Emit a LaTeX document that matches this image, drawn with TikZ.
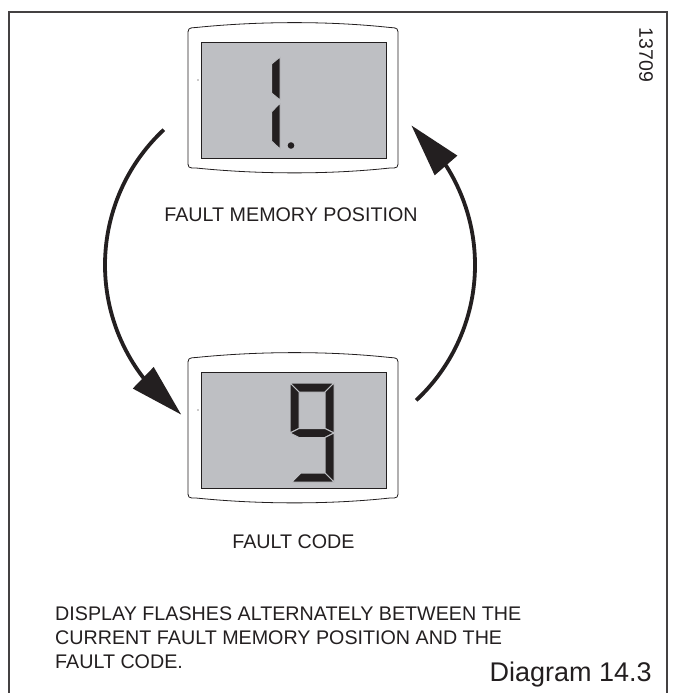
\documentclass[tikz,border=0pt]{standalone}
\usepackage{fontspec}
\setmainfont{Liberation Sans}
\usetikzlibrary{arrows.meta,positioning,calc,bending}

\definecolor{ink}{HTML}{231F20}
\definecolor{lcdgrey}{RGB}{190,191,195}

% rounded housing round one LCD window
\newcommand\bezel[1]{%
 \draw[housing] ($(#1.south west)+(-13,-2)$) -- ($(#1.north west)+(-13,6)$)
  .. controls ($(#1.north west)+(-13,14)$) .. ($(#1.north west)+(-5,14.5)$)
  .. controls ($(#1.north west)+(59,21)$) and ($(#1.north east)+(-56,21)$) .. ($(#1.north east)+(4,14.5)$)
  .. controls ($(#1.north east)+(12,14)$) .. ($(#1.north east)+(12,6)$)
  -- ($(#1.south east)+(12,-2)$)
  .. controls ($(#1.south east)+(12,-10)$) .. ($(#1.south east)+(4,-10)$)
  .. controls ($(#1.south east)+(-56,-16.5)$) and ($(#1.south west)+(59,-16.5)$) .. ($(#1.south west)+(-5,-10)$)
  .. controls ($(#1.south west)+(-13,-10)$) .. cycle;
 \fill[ink] ($(#1.north west)+(-3,-38)$) circle (0.7);}

\begin{document}
\begin{tikzpicture}[x=1pt,y=1pt,font=\fontsize{19.7}{24}\selectfont,
 lcd/.style={draw=ink,line width=0.8pt,fill=lcdgrey,minimum width=185pt,minimum height=116pt,inner sep=0pt,outer sep=0pt},
 housing/.style={draw=ink,line width=0.8pt,fill=white},
 seg/.style={fill=ink,draw=lcdgrey,line width=1pt},
 caption/.style={text=ink,inner sep=0pt,anchor=base},
 flow/.style={draw=ink,line width=3.8pt,-{Triangle[length=53pt,width=29pt,flex]}}]
\useasboundingbox (0,0) rectangle (678,-693);
\draw[ink!85,line width=1.2pt] (9,-693) -- (9,-12) -- (667,-12) -- (667,-693);

\node[lcd] (mem) at (293.5,-100) {};
\node[lcd] (code) at (293.5,-430) {};
\bezel{mem}\bezel{code}
\node[lcd] at (mem) {};
\node[lcd] at (code) {};

% digit 1 and point
\filldraw[seg] (280,-57) -- (280,-100) -- (271.5,-93) -- (271.5,-64) -- cycle;
\filldraw[seg] (280,-103) -- (280,-149) -- (271.5,-141) -- (271.5,-112) -- cycle;
\fill[ink] (291,-145.5) circle (3.3);

% digit 9
\filldraw[seg] (290,-383) -- (334,-383) -- (325,-392) -- (299,-392) -- cycle;
\filldraw[seg] (290,-383) -- (299,-392) -- (299,-428.5) -- (290,-433) -- cycle;
\filldraw[seg] (334,-383) -- (334,-433) -- (325,-428.5) -- (325,-392) -- cycle;
\filldraw[seg] (290,-433) -- (299,-428.5) -- (325,-428.5) -- (334,-433) -- (325,-437.5) -- (299,-437.5) -- cycle;
\filldraw[seg] (334,-433) -- (334,-482) -- (325,-473) -- (325,-437.5) -- cycle;
\filldraw[seg] (292,-482) -- (334,-482) -- (325,-473) -- (301,-473) -- cycle;

\node[caption] (memlabel) at ($(mem.south)+(-2.5,-63)$) {FAULT MEMORY POSITION};
\node[caption] (codelabel) at ($(code.south)+(0,-60)$) {FAULT CODE};

% flashing cycle
\coordinate (hub) at (290,-265);
\coordinate (memout) at ($(hub)+(133:185)$);
\coordinate (codeout) at ($(hub)+(-47:185)$);
\draw[flow] (memout) arc[start angle=133,end angle=234,radius=185];
\draw[flow] (codeout) arc[start angle=-47,end angle=49,radius=185];

\node[caption,anchor=base west,align=left] (note) at (55,-668)
 {DISPLAY FLASHES ALTERNATELY BETWEEN THE\\CURRENT FAULT MEMORY POSITION AND THE\\FAULT CODE.};
\node[caption,anchor=base east,font=\fontsize{27}{30}\selectfont] (title) at (652,-681) {Diagram 14.3};
\node[caption,anchor=center,rotate=-90,font=\fontsize{19.5}{22}\selectfont] (ref) at (646,-55) {13709};
\end{tikzpicture}
\end{document}
